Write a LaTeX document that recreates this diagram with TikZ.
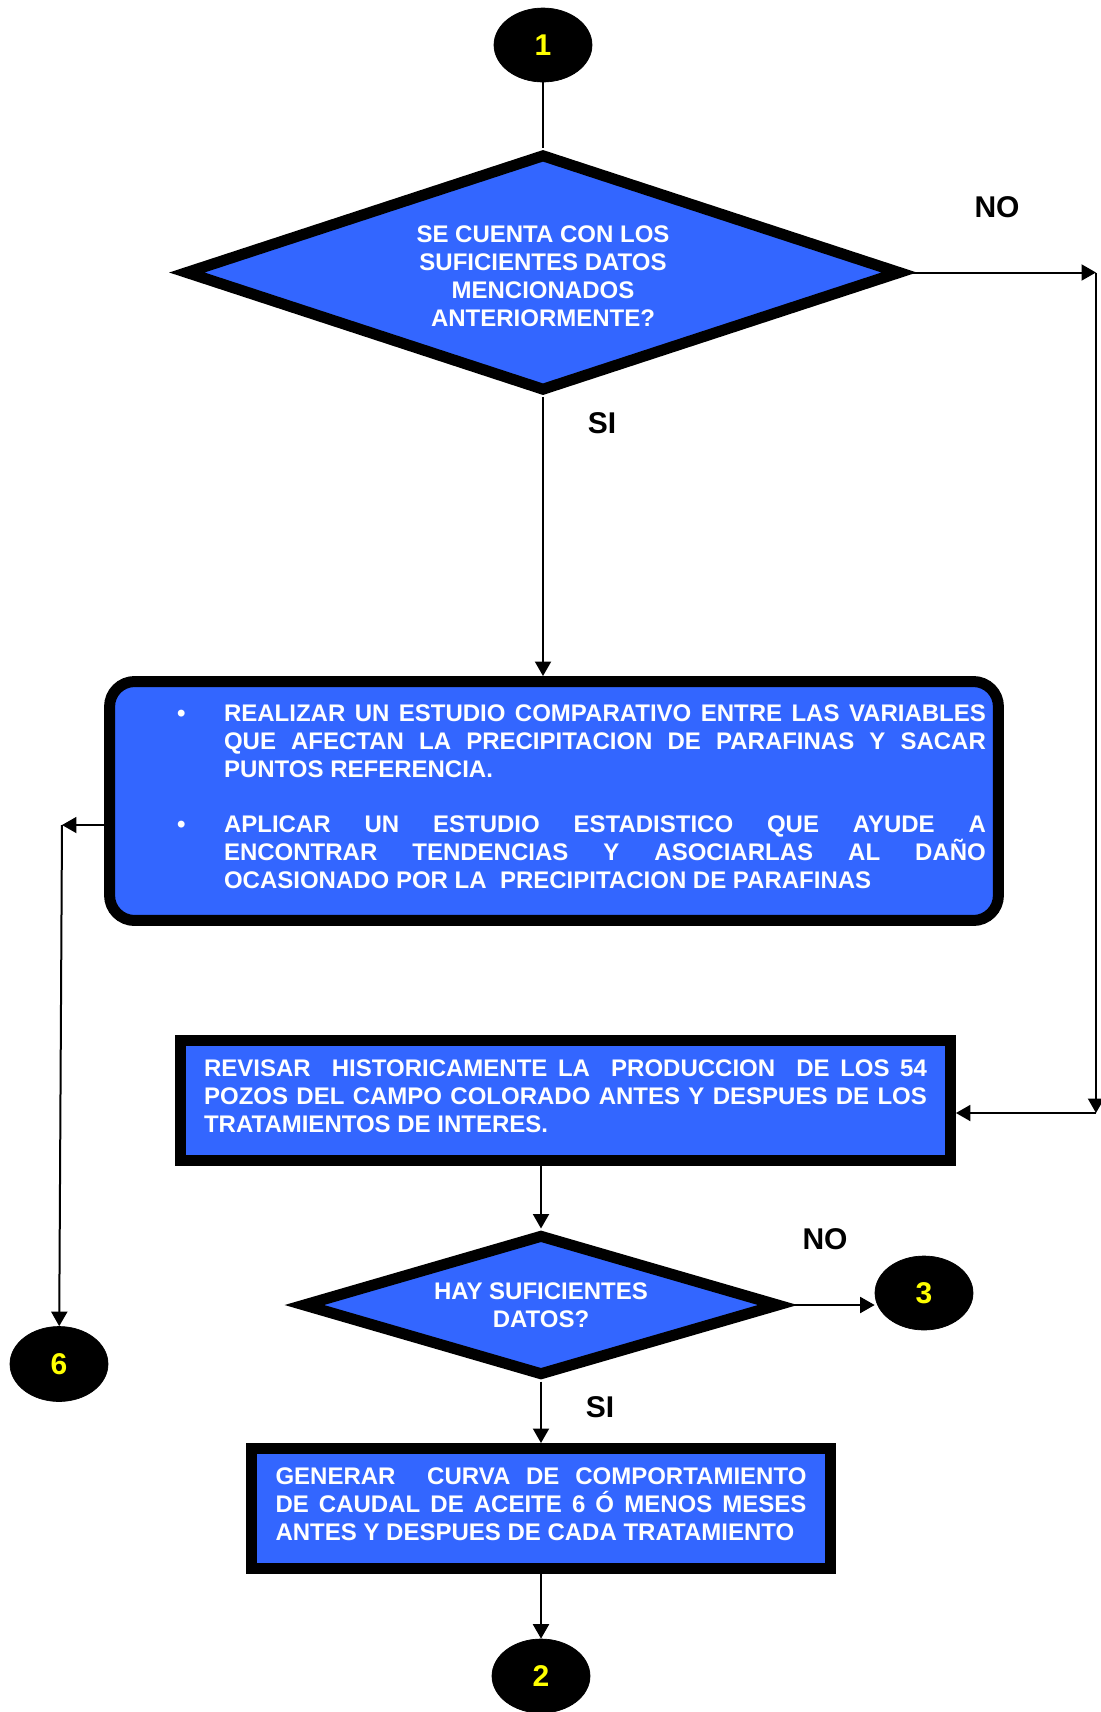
\documentclass[tikz,border=0pt]{standalone}
\usepackage{fontspec}
\setmainfont{Liberation Sans}
\usepackage{tikz}
\usetikzlibrary{shapes,arrows.meta}

\definecolor{flowblue}{RGB}{51,102,255}
\definecolor{numyellow}{RGB}{255,255,0}
\hyphenpenalty=10000
\hbadness=10000

\begin{document}
\begin{tikzpicture}[x=0.02cm,y=-0.02cm,
  conn/.style={line width=0.04cm,-{Triangle[length=0.29cm,width=0.32cm]}},
  plain/.style={line width=0.04cm},
  txt/.style={font=\bfseries\fontsize{13.66pt}{15.94pt}\selectfont,text=white},
  box/.style={draw,rectangle,fill=flowblue,line width=0.22cm,inner xsep=0.47cm,inner ysep=0pt,txt,align=justify},
  ask/.style={draw,diamond,fill=flowblue,line width=0.22cm,inner sep=0pt,txt,align=center},
  conector/.style={draw,ellipse,fill=black,minimum width=1.96cm,minimum height=1.48cm,inner sep=0pt,text=numyellow,font=\bfseries\fontsize{17.07pt}{20pt}\selectfont},
  answer/.style={font=\bfseries\fontsize{17.07pt}{20pt}\selectfont}]
\useasboundingbox (0,0) rectangle (1100,1712);

\node[conector] (C1) at (543,45) {1};
\node[ask,aspect=3,minimum width=14.34cm,minimum height=4.76cm] (D1) at (543,272.5) {\rule{0pt}{0.49cm}SE CUENTA CON LOS\\SUFICIENTES DATOS\\MENCIONADOS\\ANTERIORMENTE?};
\node[answer] (NO1) at (997,207) {NO};
\node[answer] (SI1) at (602,423) {SI};

\node[box,rounded corners=0.5cm,inner xsep=0.25cm,text width=17.28cm,minimum width=17.78cm,minimum height=4.78cm] (B1) at (554,801) {%
{\leftskip=2.04cm\noindent\llap{\makebox[0.94cm][l]{\textbullet}}REALIZAR UN ESTUDIO COMPARATIVO ENTRE LAS VARIABLES\linebreak QUE AFECTAN LA PRECIPITACION DE PARAFINAS Y SACAR\linebreak PUNTOS REFERENCIA.\par}
\vspace{0.54cm}
{\leftskip=2.04cm\noindent\llap{\makebox[0.94cm][l]{\textbullet}}APLICAR UN ESTUDIO ESTADISTICO QUE AYUDE A\linebreak ENCONTRAR TENDENCIAS Y ASOCIARLAS AL DAÑO\linebreak OCASIONADO POR LA\ \ PRECIPITACION DE PARAFINAS\par}
\vspace{0.16cm}};

\node[box,text width=14.46cm,minimum width=15.4cm,minimum height=2.4cm] (R2) at (565.5,1100.5) {REVISAR\ \ HISTORICAMENTE LA\ \ PRODUCCION\ \ DE LOS 54\linebreak POZOS DEL CAMPO COLORADO ANTES Y DESPUES DE LOS\linebreak TRATAMIENTOS DE INTERES.\par\vspace{0.16cm}};

\node[ask,aspect=3.3,minimum width=9.56cm,minimum height=2.84cm] (D2) at (541,1305) {HAY SUFICIENTES\\DATOS?};
\node[answer] (NO2) at (825,1239) {NO};
\node[answer] (SI2) at (600,1407) {SI};
\node[conector] (C3) at (924,1293) {3};
\node[conector,minimum height=1.5cm] (C6) at (59,1364) {6};

\node[box,text width=10.62cm,minimum width=11.58cm,minimum height=2.4cm] (R3) at (541,1508.5) {GENERAR\ \ CURVA DE COMPORTAMIENTO\linebreak DE CAUDAL DE ACEITE 6 Ó MENOS MESES\linebreak ANTES Y DESPUES DE CADA TRATAMIENTO\par\vspace{0.16cm}};
\node[conector] (C2) at (541,1676) {2};

\coordinate (TR) at (1096,272.5);
\coordinate (BR) at (1096,1113);
\coordinate (TL) at (62,825);

\draw[plain] (C1) -- (D1);
\draw[conn] (D1.east) -- (TR);
\draw[conn] (TR) -- (BR);
\draw[conn] (BR) -- (BR -| R2.east);
\draw[conn] (D1.south) -- (D1.south |- B1.north);
\draw[conn] (B1.west |- TL) -- (TL);
\draw[conn] (TL) -- (C6);
\draw[conn] (D2.north |- R2.south) -- (D2.north);
\draw[conn] (D2.east) -- (D2.east -| C3.west);
\draw[conn] (D2.south) -- (R3.north);
\draw[conn] (R3.south) -- (C2.north);
\end{tikzpicture}
\end{document}
